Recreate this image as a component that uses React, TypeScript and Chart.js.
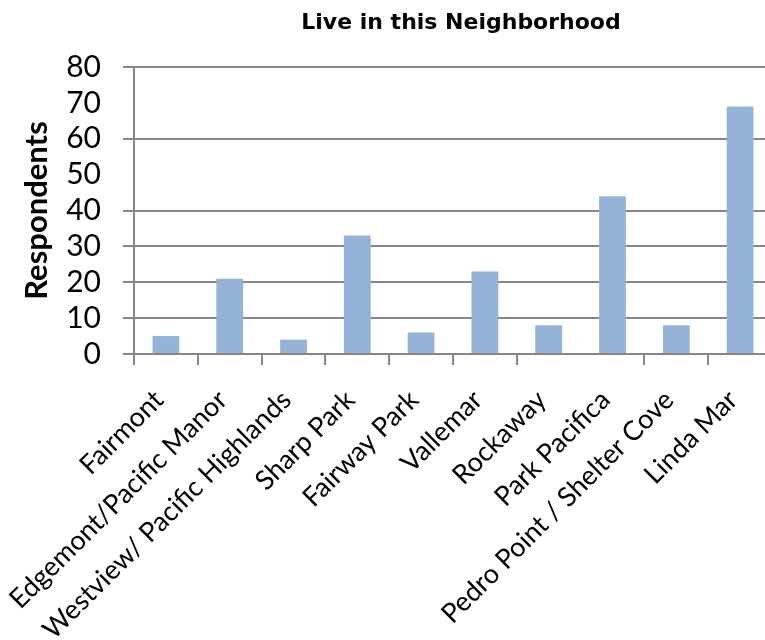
import React, { useEffect, useRef } from "react";
import { Chart, registerables } from "chart.js";

Chart.register(...registerables);

const TITLE = "Live in this Neighborhood";
const Y_TITLE = "Respondents";
const neighborhoods = [
  "Fairmont",
  "Edgemont/Pacific Manor",
  "Westview/ Pacific Highlands",
  "Sharp Park",
  "Fairway Park",
  "Vallemar",
  "Rockaway",
  "Park Pacifica",
  "Pedro Point / Shelter Cove",
  "Linda Mar",
];
const respondents = [5, 21, 4, 33, 6, 23, 8, 44, 8, 69];
const yMax = 80;
const yStep = 10;
// gridlines that are not drawn on this chart
const hiddenYGrid = [50, 70];
const hiddenXTickIndex = [7];

const AXIS_GREY = "#868686";
const BAR_BLUE = "#95B3D6";

const titlePlugin = {
  id: "centerTitle",
  afterDraw(chart: any) {
    const { ctx } = chart;
    ctx.save();
    ctx.font = "bold 22px 'DejaVu Sans'";
    ctx.fillStyle = "#000";
    ctx.textAlign = "center";
    ctx.textBaseline = "middle";
    ctx.fillText(TITLE, 461, 23);
    ctx.restore();
  },
};

export default function App() {
  const canvasRef = useRef<HTMLCanvasElement | null>(null);

  useEffect(() => {
    const canvas = canvasRef.current;
    if (!canvas) return;
    const chart = new Chart(canvas, {
      type: "bar",
      data: {
        labels: neighborhoods,
        datasets: [
          {
            data: respondents,
            backgroundColor: BAR_BLUE,
            borderWidth: 0,
            barPercentage: 0.42,
            categoryPercentage: 1,
          },
        ],
      },
      plugins: [titlePlugin],
      options: {
        responsive: false,
        animation: false,
        layout: { padding: { top: 67, left: 0, right: 0, bottom: 0 } },
        plugins: {
          legend: { display: false },
          title: { display: false },
          tooltip: { enabled: false },
        },
        scales: {
          x: {
            afterFit: (scale: any) => {
              scale.height = 286;
              scale.paddingLeft = 0;
              scale.paddingRight = 0;
            },
            grid: {
              offset: true,
              drawOnChartArea: false,
              drawTicks: true,
              tickLength: 11,
              lineWidth: 2,
              color: (c: any) =>
                hiddenXTickIndex.includes(c.index) ? "rgba(0,0,0,0)" : AXIS_GREY,
            },
            border: { display: true, color: AXIS_GREY, width: 2 },
            ticks: {
              autoSkip: false,
              maxRotation: 45,
              minRotation: 45,
              padding: 19,
              labelOffset: -7,
              color: "#000",
              font: { family: "Lato", size: 27 },
            },
          },
          y: {
            min: 0,
            max: yMax,
            afterFit: (scale: any) => {
              scale.width = 134;
            },
            grid: {
              drawTicks: true,
              tickLength: 11,
              lineWidth: 2,
              color: (c: any) =>
                c.tick && hiddenYGrid.includes(c.tick.value) ? "rgba(0,0,0,0)" : AXIS_GREY,
            },
            border: { display: true, color: AXIS_GREY, width: 2 },
            ticks: {
              stepSize: yStep,
              autoSkip: false,
              padding: 22,
              color: "#000",
              font: { family: "Lato", size: 30 },
            },
            title: {
              display: true,
              text: Y_TITLE,
              color: "#000",
              padding: { top: 18, bottom: 0 },
              font: { family: "Lato", size: 31, weight: "bold" },
            },
          },
        },
      },
    });
    return () => chart.destroy();
  }, []);

  return (
    <div
      style={{
        position: "absolute",
        left: 0,
        top: 0,
        width: 765,
        height: 640,
        overflow: "hidden",
        background: "#fff",
      }}
    >
      <div style={{ width: 772, height: 640 }}>
        <canvas ref={canvasRef} width={772} height={640} />
      </div>
    </div>
  );
}
